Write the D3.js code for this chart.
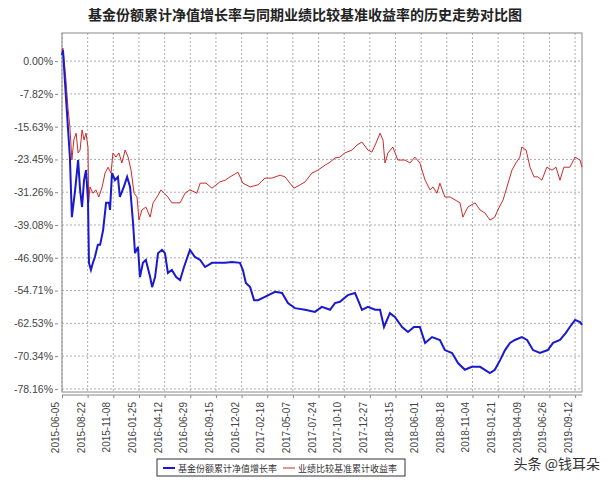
<!DOCTYPE html>
<html><head><meta charset="utf-8">
<script src="https://cdn.jsdelivr.net/npm/d3@7"></script>
<style>body{margin:0;background:#fff}svg{font-family:"Noto Sans CJK SC","DejaVu Sans",sans-serif}</style>
</head><body><svg id="c" width="610" height="484"></svg>
<script>
const startDate = "2015-06-05";
const xTickLabels = ["2015-06-05","2015-08-22","2015-11-08","2016-01-25","2016-04-12","2016-06-29","2016-09-15","2016-12-02","2017-02-18","2017-05-07","2017-07-24","2017-10-10","2017-12-27","2018-03-15","2018-06-01","2018-08-18","2018-11-04","2019-01-21","2019-04-09","2019-06-26","2019-09-12"];
const yTickValues = [0,-7.82,-15.63,-23.45,-31.26,-39.08,-46.90,-54.71,-62.53,-70.34,-78.16];
// day offset from start date
const fundDays = [0,3,12,24,30,40,49,55,61,67,73,79,82,88,94,100,109,116,125,134,143,146,152,161,170,176,188,198,207,216,222,231,237,246,255,268,274,283,292,304,313,322,334,347,359,371,389,404,420,435,456,474,496,517,541,550,559,572,584,596,617,648,669,687,708,739,769,790,815,830,845,869,891,900,912,930,952,967,979,997,1012,1034,1052,1070,1088,1104,1125,1149,1164,1186,1204,1225,1246,1271,1301,1316,1332,1347,1362,1377,1398,1414,1432,1453,1477,1493,1514,1532,1544,1560,1575,1581];
const fundValues = [1.4,2.6,-8.6,-22.9,-37.2,-30.7,-23.6,-30.7,-34.8,-28.4,-26.0,-33.1,-48.1,-49.8,-48.1,-46.7,-43.8,-43.8,-40.3,-33.8,-33.8,-35.5,-26.7,-28.4,-27.6,-32.4,-30.0,-27.6,-30.0,-38.6,-45.8,-44.3,-51.5,-48.1,-47.4,-51.5,-53.9,-51.5,-45.8,-45.0,-45.8,-50.5,-49.8,-51.5,-52.2,-49.1,-45.0,-46.7,-47.4,-49.1,-48.1,-48.1,-48.1,-47.9,-48.1,-49.8,-52.9,-53.9,-57.0,-57.0,-56.2,-55.0,-55.3,-57.7,-58.9,-59.3,-59.8,-58.6,-59.3,-57.7,-57.4,-55.8,-55.3,-57.0,-59.3,-58.6,-59.3,-59.3,-63.4,-60.1,-61.0,-63.4,-64.6,-63.4,-63.4,-67.2,-65.8,-66.5,-68.9,-69.6,-72.0,-73.6,-72.9,-72.9,-74.4,-73.6,-71.3,-68.9,-67.2,-66.5,-65.8,-66.5,-68.9,-69.6,-68.9,-67.2,-66.5,-64.8,-63.4,-61.7,-62.2,-62.9];
const benchDays = [0,3,12,18,24,30,36,43,49,55,61,67,73,79,81,85,94,103,112,122,131,140,149,155,164,173,182,192,201,210,219,228,234,243,255,268,277,289,301,310,322,334,347,359,374,389,410,420,438,456,480,496,511,535,550,572,596,617,638,663,678,693,705,724,739,760,778,800,815,830,845,860,882,897,912,930,942,955,967,976,982,991,1006,1021,1043,1058,1073,1088,1104,1119,1128,1140,1149,1164,1180,1195,1210,1219,1234,1256,1271,1286,1301,1316,1325,1341,1353,1368,1380,1392,1398,1411,1423,1435,1447,1459,1474,1490,1502,1514,1526,1544,1560,1575,1581];
const benchValues = [2.6,3.1,-4.5,-11.0,-15.7,-23.6,-18.8,-17.2,-21.9,-21.2,-16.4,-18.8,-17.2,-20.5,-33.8,-30.0,-31.5,-30.7,-32.4,-30.0,-26.7,-25.3,-26.7,-21.9,-22.9,-21.9,-24.3,-21.2,-22.9,-26.0,-31.5,-32.4,-37.9,-35.5,-34.8,-37.2,-33.8,-32.4,-30.7,-31.5,-32.4,-33.8,-33.8,-33.8,-31.5,-30.7,-31.5,-29.1,-29.1,-30.3,-28.8,-28.4,-27.6,-26.5,-29.1,-30.0,-29.5,-27.9,-27.9,-27.2,-27.6,-29.1,-30.3,-29.5,-28.8,-26.7,-26.0,-24.8,-24.1,-23.1,-22.9,-21.9,-21.2,-20.0,-19.3,-21.2,-21.7,-19.5,-17.2,-18.8,-24.3,-21.9,-20.5,-23.6,-23.6,-24.3,-22.9,-24.3,-28.4,-30.7,-30.0,-31.5,-29.1,-32.4,-32.4,-33.1,-33.8,-37.2,-34.8,-33.8,-35.5,-36.2,-37.9,-37.2,-35.5,-33.1,-30.0,-26.0,-24.3,-22.9,-20.5,-21.2,-25.3,-27.6,-27.6,-28.4,-25.3,-26.0,-25.3,-28.4,-25.3,-25.3,-22.9,-23.6,-25.3];
const seriesNames = ["基金份额累计净值增长率","业绩比较基准累计收益率"];
const title = "基金份额累计净值增长率与同期业绩比较基准收益率的历史走势对比图";

const svg = d3.select("#c");
const L=62,R=582,T=33,B=392;
const parse = d3.utcParse("%Y-%m-%d");
const d0 = parse(startDate);
const dayToDate = d => d3.utcDay.offset(d0, d);
const x = d3.scaleUtc().domain([d0, dayToDate(1581)]).range([L,R]);
const y = d3.scaleLinear().domain([-78.9,6.7]).range([B,T]);
const tickDates = xTickLabels.map(parse);

svg.append("text").attr("x",305).attr("y",20).attr("text-anchor","middle")
  .attr("font-size",14).attr("font-weight","bold").attr("fill","#222").text(title);

const g = svg.append("g");
g.selectAll(".gy").data(yTickValues).join("line")
  .attr("x1",L).attr("x2",R).attr("y1",d=>y(d)).attr("y2",d=>y(d))
  .attr("stroke","#999").attr("stroke-dasharray","2,2").attr("stroke-width",0.8);
g.selectAll(".gx").data(tickDates).join("line")
  .attr("x1",d=>x(d)).attr("x2",d=>x(d)).attr("y1",T).attr("y2",B)
  .attr("stroke","#999").attr("stroke-dasharray","2,2").attr("stroke-width",0.8);
g.append("rect").attr("x",L).attr("y",T).attr("width",R-L).attr("height",B-T)
  .attr("fill","none").attr("stroke","#888").attr("stroke-width",1);

const yAxis = svg.append("g").attr("transform",`translate(${L-4},0)`)
  .call(d3.axisLeft(y).tickValues(yTickValues).tickFormat(d=>d.toFixed(2)+"%").tickSize(3).tickPadding(2));
yAxis.select(".domain").remove();
yAxis.selectAll("text").attr("font-size",10.5).attr("fill","#444").attr("font-family","Liberation Sans, Arial, sans-serif");
yAxis.selectAll("line").attr("stroke","#888");

const xAxis = svg.append("g").attr("transform",`translate(0,${B+3})`)
  .call(d3.axisBottom(x).tickValues(tickDates).tickFormat((d,i)=>xTickLabels[i]).tickSize(3).tickPadding(3));
xAxis.select(".domain").attr("stroke","#888").attr("d",`M${L},0H${R}`);
xAxis.selectAll("line").attr("stroke","#888");
xAxis.selectAll("text").attr("font-size",10).attr("fill","#444").attr("font-family","Liberation Sans, Arial, sans-serif")
  .attr("transform","rotate(-90)").attr("text-anchor","end").attr("dx","-0.4em").attr("dy","-0.35em").attr("y",0).attr("x",-3);

const line = d3.line().x(d=>x(dayToDate(d[0]))).y(d=>y(d[1]));
svg.append("path").datum(benchDays.map((d,i)=>[d,benchValues[i]]))
  .attr("d",line).attr("fill","none").attr("stroke","#cc2a2a").attr("stroke-width",1);
svg.append("path").datum(fundDays.map((d,i)=>[d,fundValues[i]]))
  .attr("d",line).attr("fill","none").attr("stroke","#1a1acc").attr("stroke-width",2);

const lg = svg.append("g");
lg.append("rect").attr("x",157).attr("y",459).attr("width",248).attr("height",17).attr("fill","#fff").attr("stroke","#333");
lg.append("line").attr("x1",163).attr("x2",175).attr("y1",468).attr("y2",468).attr("stroke","#1a1acc").attr("stroke-width",2);
lg.append("text").attr("x",178).attr("y",471.5).attr("font-size",9).attr("fill","#333").text(seriesNames[0]);
lg.append("line").attr("x1",283).attr("x2",295).attr("y1",468).attr("y2",468).attr("stroke","#cc2a2a").attr("stroke-width",1);
lg.append("text").attr("x",298).attr("y",471.5).attr("font-size",9).attr("fill","#333").text(seriesNames[1]);

svg.append("text").attr("x",600).attr("y",469).attr("text-anchor","end").attr("font-size",14).attr("fill","#333")
  .attr("stroke","#fff").attr("stroke-width",2).attr("paint-order","stroke").text("头条 @钱耳朵");
</script></body></html>
